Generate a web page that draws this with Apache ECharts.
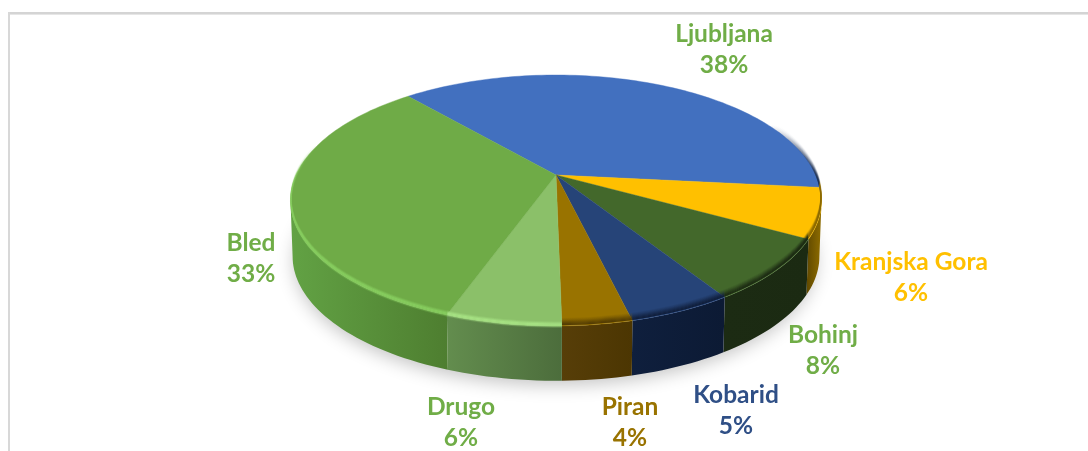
<!DOCTYPE html>
<html>
<head>
<meta charset="utf-8">
<style>html,body{margin:0;padding:0;background:#fff}#c{width:1088px;height:451px}</style>
<script src="https://cdn.jsdelivr.net/npm/echarts@6/dist/echarts.min.js"></script>
</head>
<body>
<div id="c"></div>
<script>
// Data, clockwise from the slice boundary at the upper left
const categories = ['Ljubljana', 'Kranjska Gora', 'Bohinj', 'Kobarid', 'Piran', 'Drugo', 'Bled'];
const shares = [38.0, 6.4, 7.95, 5.25, 3.5, 5.8, 33.1];

// Styles
const topColors = ['#4270bf', '#ffc000', '#43682b', '#264478', '#997300', '#8bc069', '#6fab47'];
const labelColors = ['#70ad47', '#ffc000', '#70ad47', '#2f4f86', '#997300', '#70ad47', '#70ad47'];
const wallStops = [
  ['#22406f', '#16294a'],
  ['#8f6d00', '#5f4800'],
  ['#1b2a12', '#1c2b13'],
  ['#0c1a34', '#0f1f3d'],
  ['#4c3602', '#573e08'],
  ['#4c6d3c', '#638d4e'],
  ['#4e7e30', '#62a244']
];
const rimColors = ['#1a2d50', '#8a6800', '#1a2811', '#0e1c38', '#4f3903', '#a6e283', '#86cd5e'];
const rimDark = [1, 1, 1, 1, 1, 0, 0];
const labelAnchors = [[724, 50], [911, 278], [823, 351], [736, 411], [630, 423], [461, 423], [251, 259]];

// Perspective of the disc
const view = { cx: 556, cy: 175, a: 260, b: 120.3, k: 0.203, depth: 56, baseScale: 0.992, start: -41 };
const total = shares.reduce((p, v) => p + v, 0);
// the visible wall runs between the two silhouette points of the disc
const wallFrom = Math.acos(-view.k) * 180 / Math.PI;
const wallTo = 360 - wallFrom;

function project(deg, r, lower) {
  const t = deg * Math.PI / 180;
  const c = r * Math.sin(t), s = -r * Math.cos(t), w = 1 - view.k * s;
  let x = view.a * c / w, y = view.b * s / w;
  if (lower) { x *= view.baseScale; y = y * view.baseScale + view.depth; }
  return [view.cx + x, view.cy + y];
}
function arc(a0, a1, r, lower) {
  const n = Math.max(2, Math.ceil(Math.abs(a1 - a0) / 1.5));
  const pts = [];
  for (let i = 0; i <= n; i++) pts.push(project(a0 + (a1 - a0) * i / n, r, lower));
  return pts;
}
const LG = echarts.graphic.LinearGradient;

function renderSlice(params, api) {
  const i = params.dataIndex;
  let before = 0;
  for (let j = 0; j < i; j++) before += shares[j];
  const a0 = view.start + before / total * 360;
  const a1 = a0 + api.value(0) / total * 360;
  const children = [];

  if (i === 0) {
    children.push({
      type: 'polygon', z2: 0, silent: true,
      shape: { points: arc(0, 359, 0.99, true) },
      style: { fill: '#fff', shadowColor: 'rgba(0,0,0,0.24)', shadowBlur: 18, shadowOffsetX: -1, shadowOffsetY: 6 }
    });
  }

  const w0 = Math.max(a0, wallFrom), w1 = Math.min(a1, wallTo);
  if (w1 > w0) {
    const top = arc(w0, w1, 1, false);
    const low = arc(w0, w1, 1, true);
    const xs = top.concat(low).map(p => p[0]);
    const x0 = Math.min.apply(null, xs), x1 = Math.max.apply(null, xs);
    children.push({
      type: 'polygon', z2: 1,
      shape: { points: top.concat(low.slice().reverse()) },
      style: { fill: new LG(x0, 0, x1, 0, [{ offset: 0, color: wallStops[i][1] }, { offset: 1, color: wallStops[i][0] }], true) }
    });
  }
  children.push({
    type: 'polygon', z2: 2,
    shape: { points: [[view.cx, view.cy]].concat(arc(a0, a1, 1, false)) },
    style: { fill: topColors[i], stroke: topColors[i], lineWidth: 0.4 }
  });

  // soft rim bevel: the rim curve shifted straight up, fading toward the back of the disc
  const rgb = rimColors[i];
  const rings = rimDark[i]
    ? [[7, 0.1], [6, 0.2], [5, 0.34], [4, 0.5], [3, 0.66], [2, 0.82], [1, 0.92]]
    : [[3.5, 0.25], [2.5, 0.6], [1.5, 0.95], [0.5, 0.95], [-0.5, 0.6], [-1.5, 0.25]];
  rings.forEach(rg => {
    children.push({
      type: 'polyline', z2: 3, silent: true,
      shape: { points: arc(a0, a1, 0.998, false).map(p => [p[0], p[1] - rg[0]]) },
      style: {
        fill: null, lineWidth: 1.3, opacity: rg[1],
        stroke: new LG(0, i === 6 ? 145 : 125, 0, i === 6 ? 240 : 195,
          [{ offset: 0, color: rgb + '00' }, { offset: 1, color: rgb + 'ff' }], true)
      }
    });
  });

  children.push({
    type: 'text', z2: 5,
    style: {
      x: labelAnchors[i][0], y: labelAnchors[i][1],
      text: categories[i] + '\n' + Math.round(api.value(0) / total * 100) + '%',
      fill: labelColors[i], font: 'bold 24.5px Lato',
      lineHeight: 31, align: 'center', verticalAlign: 'middle'
    }
  });
  return { type: 'group', children };
}

const chart = echarts.init(document.getElementById('c'), null, { renderer: 'canvas' });
chart.setOption({
  animation: false,
  backgroundColor: '#ffffff',
  graphic: [
    { type: 'rect', shape: { x: 8, y: 12, width: 1080, height: 2 }, style: { fill: '#d4d4d4' }, silent: true },
    { type: 'rect', shape: { x: 9, y: 14, width: 1079, height: 1 }, style: { fill: '#e6e6e6' }, silent: true },
    { type: 'rect', shape: { x: 8, y: 12, width: 2, height: 439 }, style: { fill: '#d8d8d8' }, silent: true }
  ],
  series: [{
    type: 'custom',
    coordinateSystem: 'none',
    silent: true,
    renderItem: renderSlice,
    data: categories.map((n, i) => ({ name: n, value: shares[i] }))
  }]
});
</script>
</body>
</html>
